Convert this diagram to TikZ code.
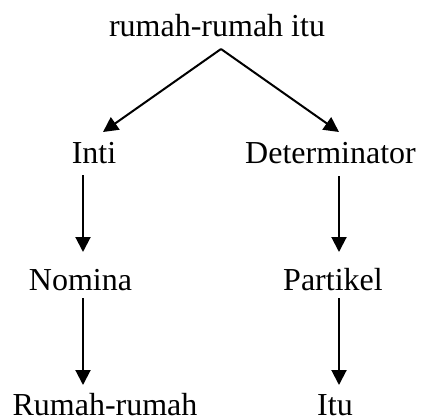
\documentclass[tikz,border=0pt]{standalone}
\usepackage{fontspec}
\setmainfont{Liberation Serif}
\usetikzlibrary{arrows.meta}
\begin{document}
\begin{tikzpicture}[x=1pt,y=-1pt,
  lbl/.style={anchor=base,inner sep=0pt,font=\fontsize{32}{38}\selectfont},
  arr/.style={line width=2pt,-{Triangle[length=15pt,width=15pt]}}]
\useasboundingbox (0,0) rectangle (422,418);
\node[lbl] (top) at (217,36) {rumah-rumah itu};
\node[lbl] (inti) at (94,163) {Inti};
\node[lbl] (det) at (330.5,163) {Determinator};
\node[lbl] (nomina) at (80.5,290) {Nomina};
\node[lbl] (partikel) at (333,290) {Partikel};
\node[lbl] (rumah) at (105,415) {Rumah-rumah};
\node[lbl] (itu) at (335,415) {Itu};
\coordinate (apex) at (221,49);
\coordinate (tipL) at (103,0);
\coordinate (tipR) at (339,0);
\coordinate (colL) at (83,0);
\coordinate (colR) at (339,0);
\draw[arr] (apex) -- ([yshift=31pt]inti.base -| tipL);
\draw[arr] (apex) -- ([yshift=31pt]det.base -| tipR);
\draw[arr] ([yshift=-12pt]inti.base -| colL) -- ([yshift=38pt]nomina.base -| colL);
\draw[arr] ([yshift=-13pt]det.base -| colR) -- ([yshift=38pt]partikel.base -| colR);
\draw[arr] ([yshift=-8pt]nomina.base -| colL) -- ([yshift=30pt]rumah.base -| colL);
\draw[arr] ([yshift=-8pt]partikel.base -| colR) -- ([yshift=30pt]itu.base -| colR);
\end{tikzpicture}
\end{document}
